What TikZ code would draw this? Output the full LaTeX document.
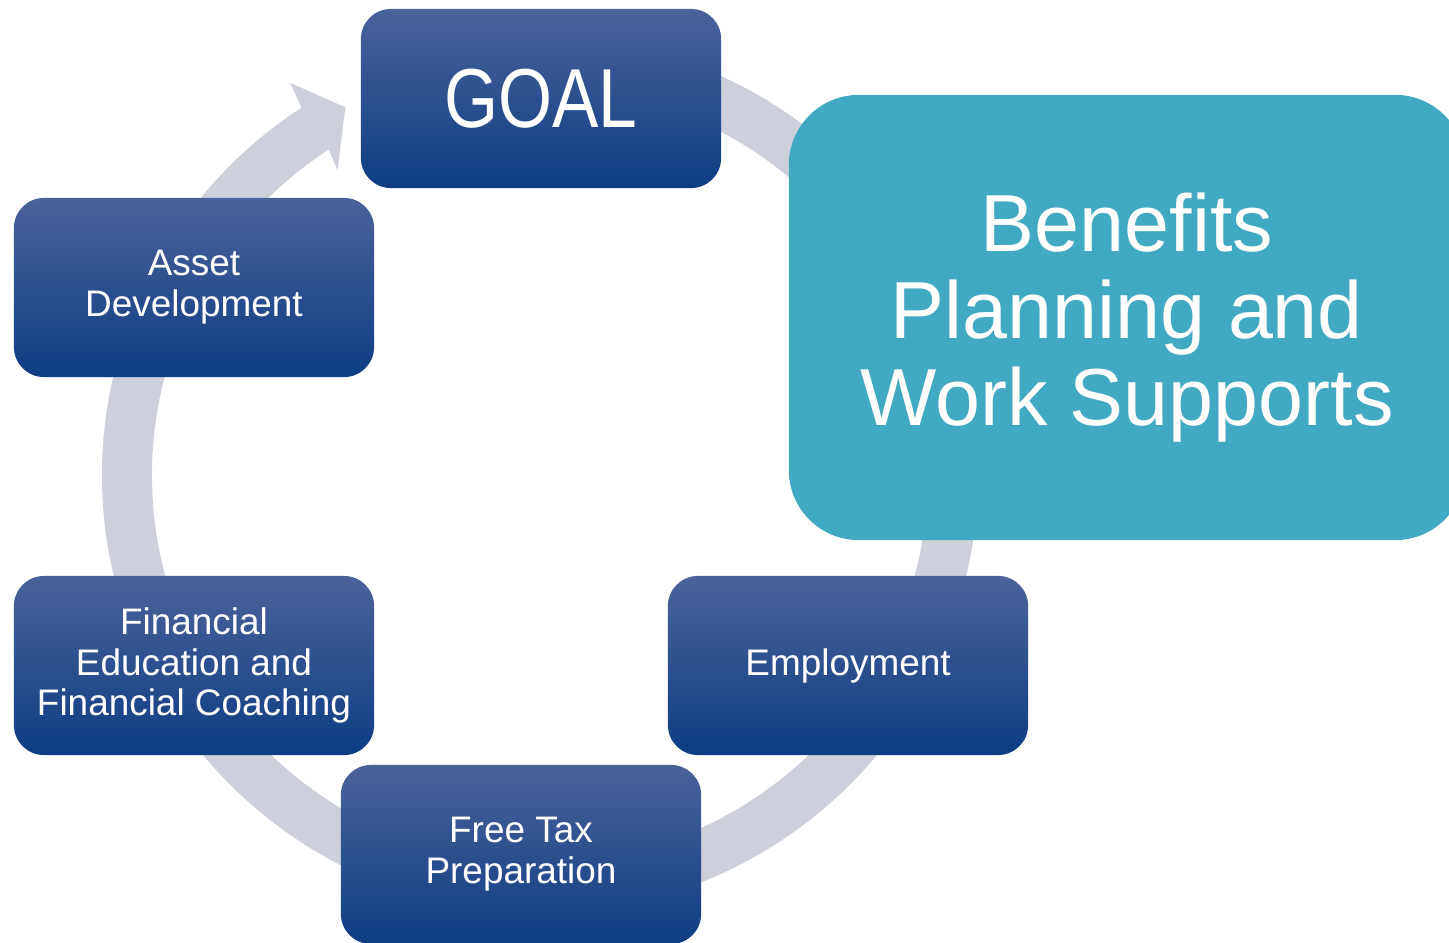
\documentclass[tikz,border=0pt]{standalone}
\usepackage{fontspec}
\setmainfont{Liberation Sans}
\newfontfamily\goalfont[FakeStretch=0.83]{Liberation Sans}

\definecolor{ringgray}{HTML}{CDD0DB}
\definecolor{boxtop}{HTML}{4A6399}
\definecolor{boxmid}{HTML}{1A4A90}
\definecolor{boxbot}{HTML}{0E3D84}
\definecolor{benteal}{HTML}{41A9C1}

\begin{document}
\begin{tikzpicture}[x=0.01cm,y=0.01cm]

\def\outr{438}
\def\innr{388}
\def\tailang{80}
\def\headang{123}

\tikzset{bluebox/.style = {rounded corners=0.3cm, minimum width=3.6cm, minimum height=1.79cm, inner sep=0pt,
    top color=boxtop, middle color=boxmid, bottom color=boxbot, text=white, align=center,
    font=\fontsize{10.5}{11.6}\selectfont}}
\tikzset{tealbox/.style = {rounded corners=0.7cm, fill=benteal, minimum width=6.76cm, minimum height=4.45cm,
    inner sep=0pt, text=white, align=center, font=\fontsize{23}{24.7}\selectfont}}

\clip (0,0) rectangle (1449,942);

\coordinate (C) at (540,467);

% circular arrow behind the boxes
\fill[ringgray, shift={(C)}] (\tailang:\outr)
    arc[start angle=\tailang, end angle=\headang-360, radius=\outr]
    -- (122.5:465) -- (117.9:416) -- (123.6:366) -- (\headang:\innr)
    arc[start angle=\headang-360, end angle=\tailang, radius=\innr] -- cycle;

\node[bluebox, font=\goalfont\fontsize{23.8}{26}\selectfont] (goal) at (541,843.5) {GOAL};
\node[bluebox] (asset) at (194,654.5) {Asset\\Development};
\node[bluebox] (fined) at (194,276.5) {Financial\\Education and\\Financial Coaching};
\node[bluebox] (employ) at (848,276.5) {Employment};
\node[bluebox] (freetax) at (521,87.5) {Free Tax\\Preparation};
\node[tealbox] (benefits) at (1127,624.5) {Benefits\\Planning and\\Work Supports};

\end{tikzpicture}
\end{document}
